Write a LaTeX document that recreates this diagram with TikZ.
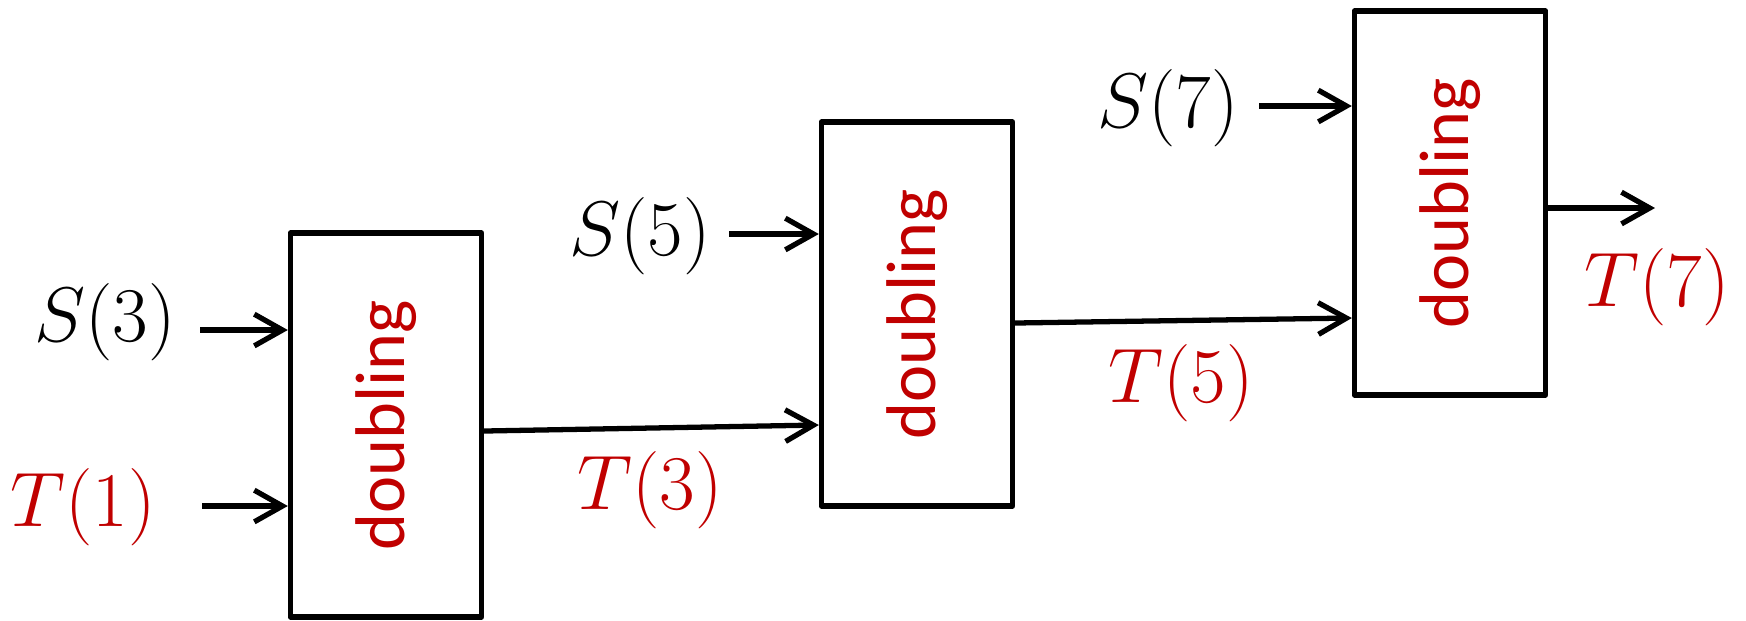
\documentclass[tikz,border=0pt]{standalone}
\usepackage{fix-cm}
\usepackage{fontspec}
\newfontfamily\blockfont{Carlito}
\usetikzlibrary{arrows.meta}
\definecolor{darkred}{RGB}{192,0,0}

\tikzset{
  block/.style={draw, line width=1.5pt, line join=round, minimum width=1.91cm,
    minimum height=3.84cm, inner sep=0pt, text=darkred,
    font=\blockfont\fontsize{20}{24}\selectfont},
  flow/.style={line width=1.5pt, -{Straight Barb[length=8pt,width=9pt]}},
  sig/.style={font=\fontsize{22}{26}\selectfont},
  tsig/.style={font=\fontsize{22}{26}\selectfont, text=darkred}
}

\begin{document}
\begin{tikzpicture}[x=0.01cm,y=-0.01cm]
  \useasboundingbox (0,0) rectangle (1746,620);

  % the three doubling stages
  \node[block] (D1) at (386,425) {\rotatebox{90}{doubling}};
  \node[block] (D2) at (917,314) {\rotatebox{90}{doubling}};
  \node[block] (D3) at (1450,203) {\rotatebox{90}{doubling}};

  % inputs and outputs
  \node[sig]  (S3) at (105,322) {$S(3)$};
  \node[tsig] (T1) at (83,507) {$T(1)$};
  \node[sig]  (S5) at (640,236) {$S(5)$};
  \node[tsig] (T3) at (650,490) {$T(3)$};
  \node[sig]  (S7) at (1168,108) {$S(7)$};
  \node[tsig] (T5) at (1181,383) {$T(5)$};
  \node[tsig] (T7) at (1657,287) {$T(7)$};

  \coordinate (s3in) at (200,330);
  \coordinate (t1in) at (202,506);
  \coordinate (s5in) at (729,234);
  \coordinate (s7in) at (1259,106);
  \coordinate (t7out) at (1655,208);

  \draw[flow] (s3in) -- (D1.west |- s3in);
  \draw[flow] (t1in) -- (D1.west |- t1in);
  \draw[flow] (D1.east |- 0,431) -- (D2.west |- 0,425);
  \draw[flow] (s5in) -- (D2.west |- s5in);
  \draw[flow] (D2.east |- 0,323) -- (D3.west |- 0,318);
  \draw[flow] (s7in) -- (D3.west |- s7in);
  \draw[flow] (D3.east |- t7out) -- (t7out);
\end{tikzpicture}
\end{document}
